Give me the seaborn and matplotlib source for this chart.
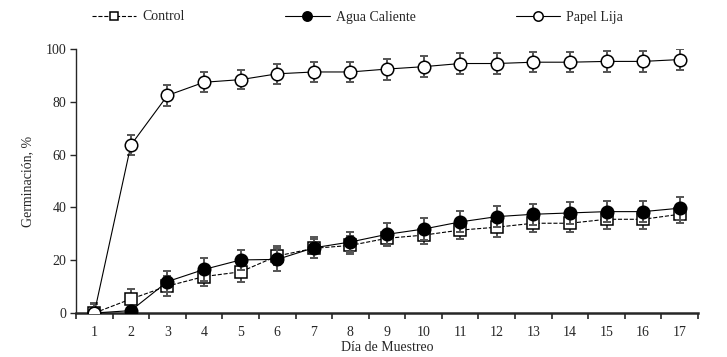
import numpy as np
import pandas as pd
import matplotlib
matplotlib.use("Agg")
import matplotlib.pyplot as plt
import seaborn as sns

dias = list(range(1, 18))
control = [0, 5.3, 10.2, 13.8, 15.6, 21.6, 24.5, 25.6, 28.3, 29.5, 31.4, 32.5, 34.0, 34.0, 35.5, 35.5, 37.4]
control_err = [3.5, 3.8, 3.7, 3.5, 3.7, 3.6, 3.6, 3.4, 3.0, 3.5, 3.5, 3.6, 3.4, 3.4, 3.6, 3.6, 3.4]
agua = [0, 0.9, 11.9, 16.5, 20.1, 20.3, 24.7, 26.9, 29.8, 31.8, 34.5, 36.5, 37.4, 37.9, 38.4, 38.4, 39.7]
agua_err = [0, 0.5, 4.0, 4.3, 3.8, 4.3, 4.0, 3.8, 4.2, 4.2, 4.0, 4.0, 4.0, 4.2, 4.0, 4.0, 4.4]
lija = [0, 63.6, 82.4, 87.4, 88.4, 90.6, 91.3, 91.3, 92.4, 93.3, 94.5, 94.5, 95.0, 95.0, 95.3, 95.3, 96.0]
lija_err = [3.9, 3.8, 4.0, 3.8, 3.7, 3.9, 3.9, 3.8, 4.0, 4.0, 4.0, 4.0, 3.8, 3.8, 4.0, 4.0, 3.9]

sns.set_style("ticks")
plt.rcParams["font.family"] = ["Liberation Serif", "DejaVu Serif"]
plt.rcParams["font.size"] = 10

fig = plt.figure(figsize=(7.27, 3.57), dpi=100)
ax = fig.add_axes([76 / 727, 1 - 313 / 357, (698 - 76) / 727, (313 - 49) / 357])

err_kw = dict(fmt="none", ecolor="#555555", elinewidth=1.4, capsize=2.6, capthick=1.4)

series = [
    ("Control", control, control_err, dict(linestyle="--", marker="s", markerfacecolor="white",
                                           markersize=8, linewidth=0.8, dashes=(3, 2))),
    ("Agua Caliente", agua, agua_err, dict(linestyle="-", marker="o", markerfacecolor="black",
                                           markersize=9, linewidth=0.8)),
    ("Papel Lija", lija, lija_err, dict(linestyle="-", marker="o", markerfacecolor="white",
                                        markersize=9, linewidth=0.8)),
]

z = 2
for name, vals, errs, style in series:
    ax.errorbar(dias, vals, yerr=errs, zorder=z, **err_kw)
    df = pd.DataFrame({"dia": dias, "val": vals})
    sns.lineplot(data=df, x="dia", y="val", ax=ax, color="black", markeredgecolor="black",
                 markeredgewidth=1.1, label=name, zorder=z + 1, **style)
    z += 2

ax.set_xlim(0.5, 17.5)
ax.set_ylim(0, 100)
ax.set_yticks([0, 20, 40, 60, 80, 100])
ax.set_xticks(np.arange(0.5, 18, 1.0))
ax.set_xticklabels([])
ax.set_xticks(dias, minor=True)
ax.set_xticklabels([str(d) for d in dias], minor=True)
ax.tick_params(axis="x", which="minor", length=0, pad=9, labelsize=10)
ax.tick_params(axis="x", which="major", length=4, width=1.2, direction="out")
ax.tick_params(axis="y", length=4, width=1.0, direction="out", labelsize=10, pad=3)
sns.despine(ax=ax)
ax.spines["bottom"].set_linewidth(1.8)
ax.spines["left"].set_linewidth(1.0)

ax.set_xlabel("Día de Muestreo", fontsize=10, labelpad=2)
ax.set_ylabel("Germinación, %", fontsize=10, labelpad=8)

ax.legend(loc="center left", bbox_to_anchor=(92 / 727, 1 - 17 / 357), bbox_transform=fig.transFigure,
          ncol=3, frameon=False, borderpad=0, borderaxespad=0, handlelength=3.2,
          handletextpad=0.45, columnspacing=7.2, fontsize=10, markerscale=0.75)

fig.savefig("out.png", dpi=100)
